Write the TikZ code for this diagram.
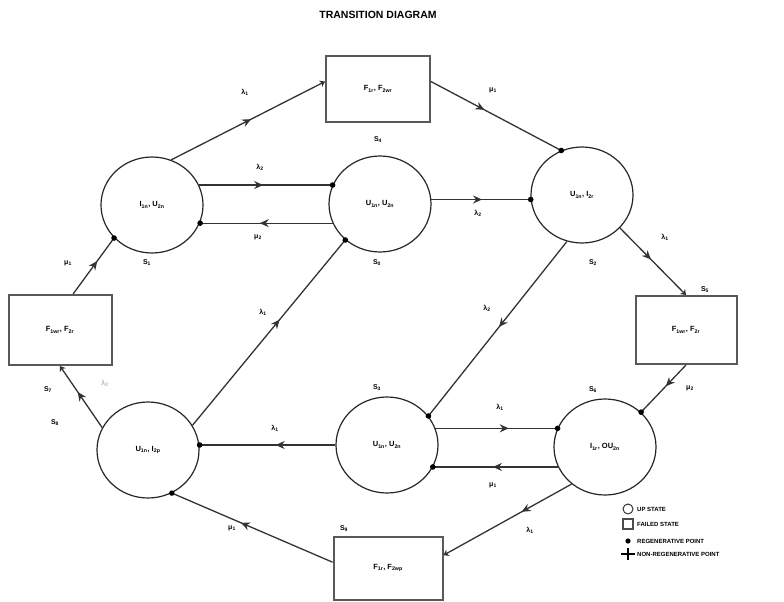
\documentclass[tikz,border=0pt]{standalone}
\usepackage{fontspec}
\setmainfont{Liberation Sans}
\setsansfont{Liberation Sans}
\usetikzlibrary{shapes.geometric,arrows.meta,decorations.markings,calc}
\tikzset{
  upstate/.style={draw=black!85,line width=1.2pt,ellipse,minimum width=102pt,minimum height=96pt,inner sep=0pt,font=\fontsize{7.5}{8}\selectfont\bfseries},
  failstate/.style={draw=black!65,line width=2pt,rectangle,inner sep=0pt,font=\fontsize{7.5}{8}\selectfont\bfseries},
  conn/.style={draw=black!80,line width=1.3pt},
  midarr/.style={postaction={decorate,decoration={markings,mark=at position #1 with {\arrow{Stealth[length=9pt,width=8pt,inset=3pt]}}}}},
  dotend/.style={postaction={decorate,decoration={markings,mark=at position 1 with {\fill circle (2.8pt);}}}},
  boxend/.style={-{Stealth[length=5pt,width=7pt,inset=1.5pt]}},
  elab/.style={font=\fontsize{7}{7}\selectfont\bfseries,inner sep=1pt},
  slab/.style={font=\fontsize{7}{7}\selectfont\bfseries,inner sep=1pt},
  legtxt/.style={font=\fontsize{6}{6}\selectfont\bfseries,anchor=west,inner sep=0pt}
}
\begin{document}
\begin{tikzpicture}[x=1pt,y=-1pt]
\useasboundingbox (0,0) rectangle (784,602);
\node[font=\fontsize{10.5}{11}\selectfont\bfseries] (title) at (378,15) {TRANSITION DIAGRAM};

% up states
\node[upstate] (L1) at (152,205) {I\textsubscript{1n}, U\textsubscript{2n}};
\node[upstate] (M)  at (380,204) {U\textsubscript{1n}, U\textsubscript{2n}};
\node[upstate] (R)  at (582,195) {U\textsubscript{1n}, I\textsubscript{2r}};
\node[upstate] (BL) at (148,450) {U\textsubscript{1n}, I\textsubscript{2p}};
\node[upstate] (BM) at (387,445) {U\textsubscript{1n}, U\textsubscript{2n}};
\node[upstate] (BR) at (605,447) {I\textsubscript{1r}, OU\textsubscript{2n}};
% failed states
\node[failstate,minimum width=104pt,minimum height=65pt] (T)  at (378,89)  {F\textsubscript{1r}, F\textsubscript{2wr}};
\node[failstate,minimum width=103pt,minimum height=70pt] (LB) at (60,330)  {F\textsubscript{1wr}, F\textsubscript{2r}};
\node[failstate,minimum width=101pt,minimum height=68pt] (RB) at (686,330) {F\textsubscript{1wr}, F\textsubscript{2r}};
\node[failstate,minimum width=109pt,minimum height=63pt] (BB) at (388,568) {F\textsubscript{1r}, F\textsubscript{2wp}};

% connectors
\draw[conn,midarr=0.52,boxend] (L1.67) -- (T.172);
\draw[conn,midarr=0.41,dotend] (T.8) -- (R.115);
\draw[conn,midarr=0.48,dotend] (L1.23) -- (L1.23 -| M.158);
\draw[conn,midarr=0.55,dotend] (M.202) -- (M.202 -| L1.-20);
\draw[conn,midarr=0.51,dotend] (M.5) -- (M.5 -| R.186);
\draw[conn,midarr=0.47,boxend] (R.-41) -- (RB.north);
\draw[conn,midarr=0.45,dotend] (RB.south) -- (BR.44);
\draw[conn,midarr=0.49,dotend] (R.252) -- (BM.35);
\draw[conn,midarr=0.6,dotend] (BM.19) -- (BM.19 -| BR.158);
\draw[conn,midarr=0.52,dotend] (BR.203) -- (BR.203 -| BM.-26);
\draw[conn,midarr=0.44,dotend] (BM.west) -- (BM.west -| BL.east);
\draw[conn,midarr=0.57,dotend] (BL.29) -- (M.226);
\draw[conn,midarr=0.58,boxend] (BL.154) -- (LB.south);
\draw[conn,midarr=0.59,dotend] (LB.70) -- (L1.221);
\draw[conn,midarr=0.57,dotend] (BB.174) -- (BL.-61);
\draw[conn,midarr=0.39,boxend] (BR.228) -- (BB.13);

% edge labels
\node[elab] (l1)  at (245,92)  {λ\textsubscript{1}};
\node[elab] (l2)  at (493,90)  {μ\textsubscript{1}};
\node[elab] (l3)  at (260,167) {λ\textsubscript{2}};
\node[elab] (l4)  at (258,237) {μ\textsubscript{2}};
\node[elab] (l5)  at (478,213) {λ\textsubscript{2}};
\node[elab] (l6)  at (665,237) {λ\textsubscript{1}};
\node[elab] (l7)  at (690,388) {μ\textsubscript{2}};
\node[elab] (l8)  at (487,308) {λ\textsubscript{2}};
\node[elab] (l9)  at (500,407) {λ\textsubscript{1}};
\node[elab] (l10) at (493,485) {μ\textsubscript{1}};
\node[elab] (l11) at (275,428) {λ\textsubscript{1}};
\node[elab] (l12) at (263,312) {λ\textsubscript{1}};
\node[elab,text=black!30] (l13) at (105,383) {λ\textsubscript{2}};
\node[elab] (l14) at (68,263)  {μ\textsubscript{1}};
\node[elab] (l15) at (232,528) {μ\textsubscript{1}};
\node[elab] (l16) at (530,530) {λ\textsubscript{1}};

% state labels
\node[slab] (s0) at (377,263) {S\textsubscript{0}};
\node[slab] (s1) at (147,263) {S\textsubscript{1}};
\node[slab] (s2) at (593,263) {S\textsubscript{2}};
\node[slab] (s3) at (377,388) {S\textsubscript{3}};
\node[slab] (s4) at (378,140) {S\textsubscript{4}};
\node[slab] (s5) at (705,290) {S\textsubscript{5}};
\node[slab] (s6) at (593,390) {S\textsubscript{6}};
\node[slab] (s7) at (48,390)  {S\textsubscript{7}};
\node[slab] (s8) at (55,423)  {S\textsubscript{8}};
\node[slab] (s9) at (344,529) {S\textsubscript{9}};

% legend
\draw[black!80,line width=1pt] (628,509) circle (5);
\node[legtxt] (lg1) at (637,509) {UP STATE};
\draw[black!70,line width=1.4pt] (623,519) rectangle (633,529);
\node[legtxt] (lg2) at (637,524) {FAILED STATE};
\fill (628,541) circle (2.6);
\node[legtxt] (lg3) at (637,541) {REGENERATIVE POINT};
\draw[line width=1.6pt] (621,554) -- (635,554) (628,548) -- (628,560);
\node[legtxt] (lg4) at (637,554) {NON-REGENERATIVE POINT};
\end{tikzpicture}
\end{document}
